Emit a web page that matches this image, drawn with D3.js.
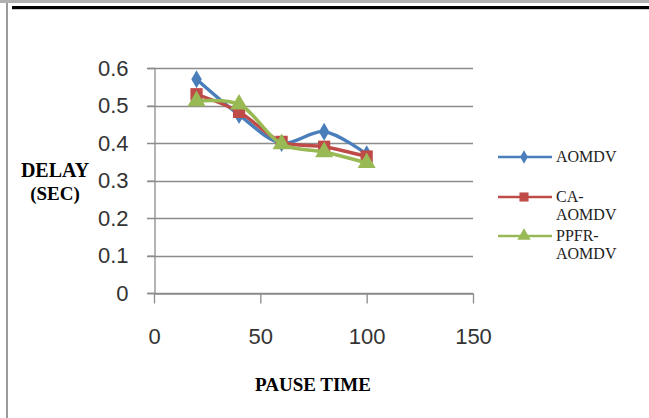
<!DOCTYPE html>
<html>
<head>
<meta charset="utf-8">
<script src="https://cdn.jsdelivr.net/npm/d3@7"></script>
<style>
  body { margin: 0; background: #fff; }
  svg { display: block; }
</style>
</head>
<body>
<svg width="649" height="418"></svg>
<script>
var svg = d3.select("svg");
var width = +svg.attr("width");
var height = +svg.attr("height");

// data
var pauseTime = [20, 40, 60, 80, 100];
var aomdv     = [0.57, 0.475, 0.40, 0.43, 0.37];
var caAomdv   = [0.53, 0.483, 0.403, 0.39, 0.364];
var ppfrAomdv = [0.512, 0.503, 0.397, 0.376, 0.347];
var xTicks = [0, 50, 100, 150];
var yTicks = [0, 0.1, 0.2, 0.3, 0.4, 0.5, 0.6];

var series = [
  {name: ["AOMDV"], values: aomdv, color: "#4A7EBB", shape: d3.symbolDiamond, size: 95},
  {name: ["CA-", "AOMDV"], values: caAomdv, color: "#BE4B48", shape: d3.symbolSquare, size: 150},
  {name: ["PPFR-", "AOMDV"], values: ppfrAomdv, color: "#98B954", shape: d3.symbolTriangle, size: 140}
];

// frame
svg.append("rect").attr("x", 0).attr("y", 0).attr("width", width).attr("height", 3).attr("fill", "#b0b0b0");
svg.append("rect").attr("x", 6).attr("y", 3).attr("width", 2).attr("height", height).attr("fill", "#9a9a9a");
svg.append("rect").attr("x", 12).attr("y", 6).attr("width", width - 12).attr("height", 3).attr("fill", "#000");
svg.append("rect").attr("x", 12).attr("y", 9).attr("width", width - 12).attr("height", 1).attr("fill", "#ccc");

var x = d3.scaleLinear().domain([0, 150]).range([154, 473]);
var y = d3.scaleLinear().domain([0, 0.6]).range([293, 68]);

// gridlines
svg.append("g")
  .selectAll("line")
  .data(yTicks)
  .enter()
  .append("line")
  .attr("x1", 147)
  .attr("x2", 473)
  .attr("y1", function(d) { return Math.round(y(d)) + 0.5; })
  .attr("y2", function(d) { return Math.round(y(d)) + 0.5; })
  .attr("stroke", "#8c8c8c")
  .attr("stroke-width", 1.3);

// y axis
var yAxis = svg.append("g")
  .attr("transform", "translate(154.5,0)")
  .call(d3.axisLeft(y).tickValues(yTicks).tickSize(7).tickPadding(19).tickFormat(d3.format("")));
yAxis.select(".domain").attr("stroke", "#8c8c8c").attr("stroke-width", 1.3);
yAxis.selectAll(".tick line").attr("stroke", "#8c8c8c");
yAxis.selectAll("text")
  .attr("fill", "#333")
  .style("font-family", "Liberation Sans, Arial, sans-serif")
  .style("font-size", "22px");

// x axis
var xAxis = svg.append("g")
  .attr("transform", "translate(0,293.5)")
  .call(d3.axisBottom(x).tickValues(xTicks).tickSize(10).tickSizeOuter(0).tickPadding(25));
xAxis.select(".domain").attr("stroke", "#8c8c8c").attr("stroke-width", 1.3);
xAxis.selectAll(".tick line").attr("stroke", "#8c8c8c").attr("stroke-width", 1.3);
xAxis.selectAll("text")
  .attr("fill", "#333")
  .style("font-family", "Liberation Sans, Arial, sans-serif")
  .style("font-size", "22px");

// lines
var line = d3.line()
  .x(function(d, i) { return x(pauseTime[i]); })
  .y(function(d) { return y(d); })
  .curve(d3.curveCatmullRom.alpha(0.5));

series.forEach(function(s) {
  svg.append("path")
    .datum(s.values)
    .attr("d", line)
    .attr("fill", "none")
    .attr("stroke", s.color)
    .attr("stroke-width", 3.4);
  svg.append("g")
    .selectAll("path")
    .data(s.values)
    .enter()
    .append("path")
    .attr("d", d3.symbol().type(s.shape).size(s.size))
    .attr("transform", function(d, i) { return "translate(" + x(pauseTime[i]) + "," + y(d) + ")"; })
    .attr("fill", s.color);
});

// axis titles
var serif = "Liberation Serif, Times New Roman, serif";
svg.append("text")
  .attr("x", 55).attr("y", 177)
  .attr("text-anchor", "middle")
  .style("font-family", serif)
  .style("font-weight", "bold").style("font-size", "20px")
  .text("DELAY");
svg.append("text")
  .attr("x", 55).attr("y", 200)
  .attr("text-anchor", "middle")
  .style("font-family", serif)
  .style("font-weight", "bold").style("font-size", "19px")
  .text("(SEC)");
svg.append("text")
  .attr("x", 313).attr("y", 391)
  .attr("text-anchor", "middle")
  .style("font-family", serif)
  .style("font-weight", "bold").style("font-size", "19px")
  .text("PAUSE TIME");

// legend
var legendY = [157, 197, 236];
series.forEach(function(s, k) {
  var g = svg.append("g").attr("transform", "translate(0," + legendY[k] + ")");
  g.append("line")
    .attr("x1", 498).attr("x2", 552)
    .attr("stroke", s.color).attr("stroke-width", 2.5);
  g.append("path")
    .attr("d", d3.symbol().type(s.shape).size(s.size * 0.55))
    .attr("transform", "translate(524,0)")
    .attr("fill", s.color);
  s.name.forEach(function(t, j) {
    g.append("text")
      .attr("x", 556).attr("y", 5 + j * 18)
      .style("font-family", serif)
      .style("font-size", "16px")
      .attr("fill", "#222")
      .text(t);
  });
});
</script>
</body>
</html>
